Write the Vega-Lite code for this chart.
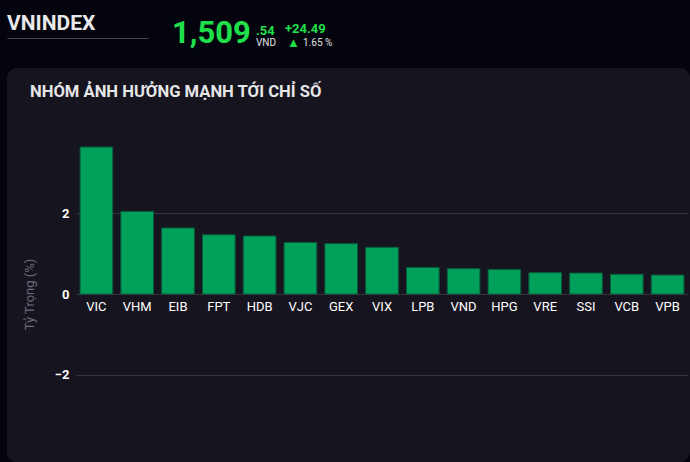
{
  "$schema": "https://vega.github.io/schema/vega-lite/v6.json",
  "background": "#04040e",
  "padding": {"left": 7, "top": 0, "right": 0, "bottom": 0},
  "config": {
    "font": "Roboto",
    "view": {"stroke": null},
    "axis": {"labelFont": "Roboto", "titleFont": "Roboto"},
    "title": {"anchor": "start", "frame": "group", "baseline": "alphabetic"}
  },
  "datasets": {
    "bars": [
      {"ma": "VIC", "ty_trong": 3.65},
      {"ma": "VHM", "ty_trong": 2.05},
      {"ma": "EIB", "ty_trong": 1.64},
      {"ma": "FPT", "ty_trong": 1.47},
      {"ma": "HDB", "ty_trong": 1.44},
      {"ma": "VJC", "ty_trong": 1.28},
      {"ma": "GEX", "ty_trong": 1.25},
      {"ma": "VIX", "ty_trong": 1.16},
      {"ma": "LPB", "ty_trong": 0.66},
      {"ma": "VND", "ty_trong": 0.63},
      {"ma": "HPG", "ty_trong": 0.61},
      {"ma": "VRE", "ty_trong": 0.53},
      {"ma": "SSI", "ty_trong": 0.52},
      {"ma": "VCB", "ty_trong": 0.49},
      {"ma": "VPB", "ty_trong": 0.47}
    ]
  },
  "spacing": 0,
  "vconcat": [
    {
      "bounds": "flush",
      "spacing": 0,
      "hconcat": [
        {
          "width": 141, "height": 38,
          "data": {"name": "bars"},
          "title": {"text": "VNINDEX", "offset": -34, "fontSize": 21, "fontWeight": "bold", "color": "#e8e8ea"},
          "mark": {"type": "rule", "opacity": 0},
          "encoding": {
            "x": {"datum": 0, "type": "quantitative", "scale": {"domain": [0, 1]},
              "axis": {"orient": "bottom", "domainColor": "#45444e", "domainWidth": 1, "labels": false, "ticks": false, "grid": false, "title": null}}
          }
        },
        {
          "width": 108, "height": 68,
          "data": {"name": "bars"},
          "title": {"text": "1,509", "offset": -50, "dx": 24, "fontSize": 31, "fontWeight": "bold", "color": "#1fe04a"},
          "mark": {"type": "text", "text": ""},
          "encoding": {}
        },
        {
          "width": 1, "height": 68,
          "data": {"name": "bars"},
          "title": {"text": ".54", "offset": -38, "fontSize": 13, "fontWeight": "bold", "color": "#1fe04a"},
          "mark": {"type": "text", "text": ""},
          "encoding": {}
        },
        {
          "width": 28, "height": 68,
          "data": {"name": "bars"},
          "title": {"text": "VND", "offset": -48, "dx": -1, "fontSize": 10, "fontWeight": "normal", "color": "#e0e0e0"},
          "mark": {"type": "text", "text": ""},
          "encoding": {}
        },
        {
          "width": 1, "height": 68,
          "data": {"name": "bars"},
          "title": {"text": "+24.49", "offset": -36, "fontSize": 13, "fontWeight": "bold", "color": "#1fe04a"},
          "mark": {"type": "text", "text": ""},
          "encoding": {}
        },
        {
          "width": 17, "height": 68,
          "data": {"name": "bars"},
          "title": {"text": "▲", "offset": -50, "dx": 1, "fontSize": 13, "fontWeight": "normal", "color": "#1fe04a"},
          "mark": {"type": "text", "text": ""},
          "encoding": {}
        },
        {
          "width": 60, "height": 68,
          "data": {"name": "bars"},
          "title": {"text": "1.65 %", "offset": -48, "fontSize": 10, "fontWeight": "normal", "color": "#e0e0e0"},
          "mark": {"type": "text", "text": ""},
          "encoding": {}
        }
      ]
    },
    {
      "width": 683,
      "height": 394,
      "view": {"fill": "#16141e", "stroke": null, "cornerRadius": 10},
      "title": {"text": "NHÓM ẢNH HƯỞNG MẠNH TỚI CHỈ SỐ", "offset": -33, "dx": 23, "fontSize": 16.6, "fontWeight": "bold", "color": "#e6e6e8"},
      "data": {"name": "bars"},
      "mark": {"type": "bar", "color": "#00a05a", "stroke": "#0b5c3c", "strokeWidth": 1},
      "encoding": {
        "x": {
          "field": "ma", "type": "nominal", "sort": null,
          "scale": {"range": [69, 681], "paddingInner": 0.2, "paddingOuter": 0.1},
          "axis": {"orient": "bottom", "offset": -168, "title": null, "labelAngle": 0, "ticks": false, "domain": false, "grid": false, "labelPadding": 6, "labelColor": "#ffffff", "labelFontSize": 13}
        },
        "y": {
          "field": "ty_trong", "type": "quantitative",
          "scale": {"domain": [-3.65, 3.65], "nice": false, "range": [373, 79]},
          "axis": {"values": [-2, 0, 2], "offset": -69, "ticks": false, "domain": false, "grid": true, "gridColor": "#35333d", "labelColor": "#ffffff", "labelFontSize": 13, "labelFontWeight": "bold", "labelPadding": 7, "title": "Tỷ Trọng (%)", "titleColor": "#6e6c76", "titleFontSize": 13, "titleFontWeight": "normal", "titlePadding": 18}
        }
      }
    }
  ]
}
